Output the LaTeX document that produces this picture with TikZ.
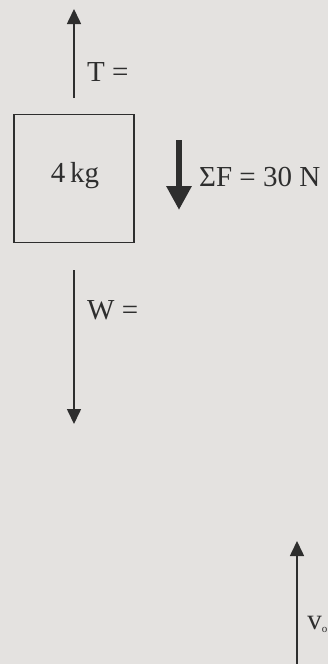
\documentclass[tikz,border=0pt]{standalone}
\usepackage{fontspec}
\setmainfont{Liberation Serif}
\usetikzlibrary{arrows.meta}
\definecolor{paper}{HTML}{E4E2E0}
\definecolor{ink}{HTML}{2E2E2E}
\begin{document}
\begin{tikzpicture}[x=1pt,y=-1pt,
  lbl/.style={font=\fontsize{29}{31}\selectfont, text=ink, inner sep=0pt},
  thin arrow/.style={draw=ink, line width=1.6pt, -{Triangle[width=14pt,length=15pt]}},
  thick arrow/.style={draw=ink, line width=6pt, -{Triangle[width=24pt,length=24pt]}}]
\useasboundingbox (0,0) rectangle (328,664);
\clip (0,0) rectangle (328,664);
\fill[paper] (0,0) rectangle (328,664);
% block
\node[draw=ink, line width=1.6pt, minimum width=120pt, minimum height=128pt, inner sep=0pt] (box) at (74,178.5) {};
\node[lbl] (mass) at (75,176) {4\,kg};
% tension
\coordinate (tbase) at (74,98);
\coordinate (ttip) at (74,9);
\draw[thin arrow] (tbase) -- (ttip);
\node[lbl, anchor=west] (tl) at (87,72) {T =};
% net force
\coordinate (fbase) at (179,140);
\coordinate (ftip) at (179,210);
\draw[thick arrow] (fbase) -- (ftip);
\node[lbl, anchor=west] (fl) at (199,177) {ΣF = 30 N};
% weight
\coordinate (wbase) at (74,270);
\coordinate (wtip) at (74,424);
\draw[thin arrow] (wbase) -- (wtip);
\node[lbl, anchor=west] (wl) at (87,310) {W =};
% velocity
\coordinate (vbase) at (297,670);
\coordinate (vtip) at (297,541);
\draw[thin arrow] (vbase) -- (vtip);
\node[lbl, anchor=east] (vl) at (327.5,624) {v\raisebox{-3pt}{\fontsize{11}{12}\selectfont o}};
\end{tikzpicture}
\end{document}
